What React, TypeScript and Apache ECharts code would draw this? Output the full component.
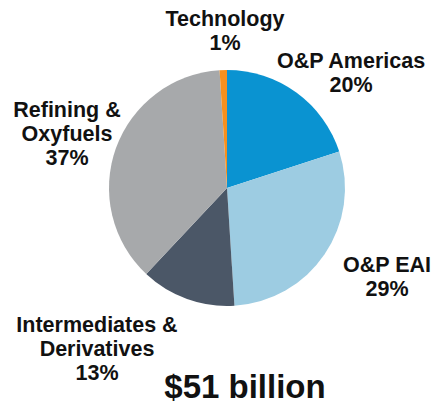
import React, { useEffect, useRef } from "react";
import * as echarts from "echarts";

const segmentNames = [
  "O&P Americas",
  "O&P EAI",
  "Intermediates &\nDerivatives",
  "Refining &\nOxyfuels",
  "Technology",
];
const segmentShares = [20, 29, 13, 37, 1];
const segmentColors = ["#0A93D1", "#9DCCE2", "#4B5767", "#A7A9AB", "#F7901E"];
const labelCenters: [number, number][] = [
  [351, 73],
  [387, 277],
  [97, 349],
  [67, 134],
  [225, 31],
];
const totalLabel = "$51 billion";

export default function App() {
  const ref = useRef<HTMLDivElement>(null);
  useEffect(() => {
    if (!ref.current) return;
    const chart = echarts.init(ref.current, null, { renderer: "svg" });
    const font = "'Liberation Sans', Arial, Helvetica, sans-serif";
    chart.setOption({
      animation: false,
      backgroundColor: "#ffffff",
      series: [
        {
          type: "pie",
          center: [227, 188],
          radius: [0, 118],
          startAngle: 90,
          clockwise: true,
          data: segmentNames.map((n, i) => ({
            name: n,
            value: segmentShares[i],
            itemStyle: { color: segmentColors[i] },
          })),
          itemStyle: { borderWidth: 0 },
          emphasis: { disabled: true },
          label: { show: false },
          labelLine: { show: false },
        },
      ],
      graphic: [
        ...segmentNames.map((n, i) => ({
          type: "text",
          x: labelCenters[i][0],
          y: labelCenters[i][1],
          style: {
            text: `${n}\n${segmentShares[i]}%`,
            fill: "#111111",
            font: `bold 21.5px ${font}`,
            lineHeight: 24,
            align: "center",
            verticalAlign: "middle",
          },
        })),
        {
          type: "text",
          x: 245,
          y: 386,
          style: {
            text: totalLabel,
            fill: "#111111",
            font: `bold 33px ${font}`,
            align: "center",
            verticalAlign: "middle",
          },
        },
      ],
    });
    return () => chart.dispose();
  }, []);
  return (
    <div
      ref={ref}
      style={{ position: "fixed", left: 0, top: 0, width: 431, height: 404 }}
    />
  );
}
